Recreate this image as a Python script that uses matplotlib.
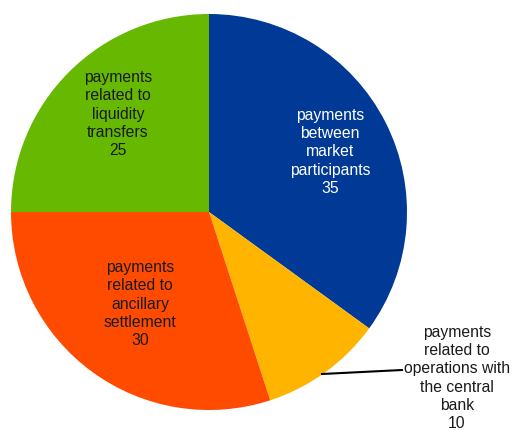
import matplotlib.pyplot as plt

labels = ['payments\nbetween\nmarket\nparticipants\n35',
          'payments\nrelated to\noperations with\nthe central\nbank\n10',
          'payments\nrelated to\nancillary\nsettlement\n30',
          'payments\nrelated to\nliquidity\ntransfers\n25']
values = [35, 10, 30, 25]
colors = ['#003A96', '#FFB400', '#FF4B00', '#66B800']

plt.rcParams['font.family'] = ['Liberation Sans', 'DejaVu Sans']

H = 430
fig = plt.figure(figsize=(5.12, 4.3), dpi=100)
ax = fig.add_axes([0, 0, 1, 1])

ax.pie(values, colors=colors, startangle=90, counterclock=False,
       center=(209, H - 212), radius=198, frame=True,
       wedgeprops=dict(linewidth=0))
ax.set_xlim(0, 512)
ax.set_ylim(0, H)
ax.set_aspect('equal')
ax.axis('off')

fs = 11.3
ls = 1.28
# inside labels
ax.text(330, H - 152, labels[0], color='white', ha='center', va='center', fontsize=fs, linespacing=ls)
ax.text(140, H - 304, labels[2], color='#1a1a1a', ha='center', va='center', fontsize=fs, linespacing=ls)
ax.text(118, H - 114, labels[3], color='#1a1a1a', ha='center', va='center', fontsize=fs, linespacing=ls)

# outside label with leader line
ax.plot([322, 402], [H - 374, H - 370], color='black', linewidth=1.5)
ax.text(457, H - 378, labels[1], color='#1a1a1a', ha='center', va='center', fontsize=fs, linespacing=ls)

fig.savefig('out.png', dpi=100)
